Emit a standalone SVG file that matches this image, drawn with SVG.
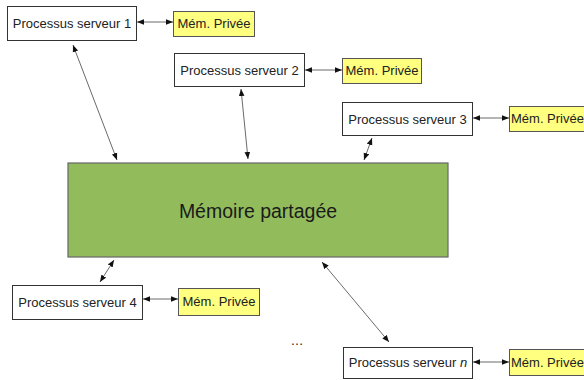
<svg xmlns="http://www.w3.org/2000/svg" width="584" height="380" viewBox="0 0 584 380">
  <defs>
    <marker id="ah" viewBox="0 0 10 10" refX="10" refY="5" markerWidth="7" markerHeight="7" markerUnits="userSpaceOnUse" orient="auto-start-reverse">
      <path d="M0,1 L10,5 L0,9 z" fill="#111"/>
    </marker>
    <style>
      .proc { fill: #ffffff; stroke: #333; stroke-width: 1; }
      .priv { fill: #ffff80; stroke: #555; stroke-width: 1; }
      .shared { fill: #92bc5c; stroke: #666; stroke-width: 1.2; }
      .lbl { font-family: "Liberation Sans", Arial, sans-serif; font-size: 13px; fill: #222; }
      .big { font-family: "Liberation Sans", Arial, sans-serif; font-size: 19.5px; fill: #1a1a1a; }
      .conn { stroke: #444; stroke-width: 0.8; fill: none; marker-start: url(#ah); marker-end: url(#ah); }
    </style>
  </defs>
  <rect width="584" height="380" fill="#ffffff"/>

  <g id="memoire-partagee">
    <rect class="shared" x="68" y="163" width="380" height="94"/>
    <text class="big" x="258" y="218" text-anchor="middle">Mémoire partagée</text>
  </g>

  <g id="proc1">
    <rect class="proc" x="7.5" y="6.5" width="129" height="34"/>
    <text class="lbl" x="72" y="27.5" text-anchor="middle">Processus serveur 1</text>
  </g>
  <g id="priv1">
    <rect class="priv" x="173.5" y="11.5" width="81" height="25"/>
    <text class="lbl" x="214" y="28" text-anchor="middle">Mém. Privée</text>
  </g>

  <g id="proc2">
    <rect class="proc" x="174.5" y="53.5" width="130" height="33"/>
    <text class="lbl" x="239.5" y="74.5" text-anchor="middle">Processus serveur 2</text>
  </g>
  <g id="priv2">
    <rect class="priv" x="342.5" y="58.5" width="79" height="25"/>
    <text class="lbl" x="382" y="75" text-anchor="middle">Mém. Privée</text>
  </g>

  <g id="proc3">
    <rect class="proc" x="342.5" y="102.5" width="130" height="33"/>
    <text class="lbl" x="407.5" y="123.5" text-anchor="middle">Processus serveur 3</text>
  </g>
  <g id="priv3">
    <rect class="priv" x="509.5" y="106.5" width="81" height="25"/>
    <text class="lbl" x="511" y="123">Mém. Privée</text>
  </g>

  <g id="proc4">
    <rect class="proc" x="12.5" y="285.5" width="130" height="34"/>
    <text class="lbl" x="77.5" y="306.5" text-anchor="middle">Processus serveur 4</text>
  </g>
  <g id="priv4">
    <rect class="priv" x="178.5" y="288.5" width="81" height="27"/>
    <text class="lbl" x="219" y="306" text-anchor="middle">Mém. Privée</text>
  </g>

  <g id="procn">
    <rect class="proc" x="343.5" y="347.5" width="129" height="31"/>
    <text class="lbl" x="408" y="367" text-anchor="middle">Processus serveur <tspan font-style="italic">n</tspan></text>
  </g>
  <g id="privn">
    <rect class="priv" x="509.5" y="349.5" width="81" height="26"/>
    <text class="lbl" x="511" y="367">Mém. Privée</text>
  </g>

  <text id="ellipsis" class="lbl" x="297" y="345" text-anchor="middle">…</text>

  <g id="connectors">
    <line class="conn" x1="137" y1="22" x2="173" y2="22"/>
    <line class="conn" x1="305" y1="70" x2="342" y2="70"/>
    <line class="conn" x1="473" y1="118" x2="509" y2="118"/>
    <line class="conn" x1="143" y1="299" x2="178" y2="299"/>
    <line class="conn" x1="473" y1="362" x2="509" y2="362"/>

    <line class="conn" x1="73" y1="45" x2="117" y2="160"/>
    <line class="conn" x1="241" y1="89" x2="248" y2="159"/>
    <line class="conn" x1="372" y1="138" x2="364" y2="160"/>
    <line class="conn" x1="114" y1="260" x2="100" y2="282"/>
    <line class="conn" x1="322" y1="262" x2="389" y2="342"/>
  </g>
</svg>
